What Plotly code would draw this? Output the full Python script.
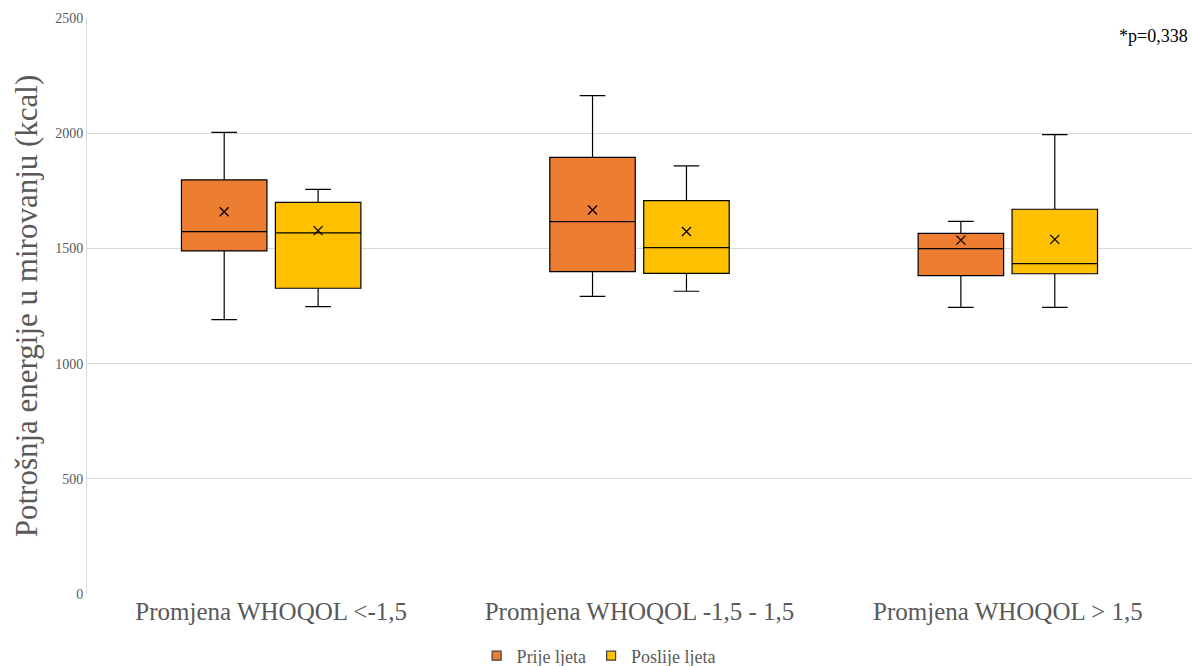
import plotly.graph_objects as go

categories = ["Promjena WHOQOL <-1,5", "Promjena WHOQOL -1,5 - 1,5", "Promjena WHOQOL > 1,5"]

# Prije ljeta
pre_lower = [1191, 1292, 1244]
pre_q1 = [1489, 1399, 1382]
pre_median = [1573, 1616, 1499]
pre_q3 = [1797, 1895, 1565]
pre_upper = [2004, 2163, 1617]
pre_mean = [1659, 1667, 1536]

# Poslije ljeta
post_lower = [1247, 1314, 1244]
post_q1 = [1327, 1392, 1390]
post_median = [1567, 1503, 1434]
post_q3 = [1700, 1707, 1670]
post_upper = [1756, 1858, 1994]
post_mean = [1577, 1573, 1539]

series = [
    ("Prije ljeta", "#ED7D31", pre_lower, pre_q1, pre_median, pre_q3, pre_upper, pre_mean),
    ("Poslije ljeta", "#FFC000", post_lower, post_q1, post_median, post_q3, post_upper, post_mean),
]

fig = go.Figure()
for name, color, lo, q1, med, q3, up, mn in series:
    fig.add_trace(go.Box(
        name=name, x=categories, q1=q1, median=med, q3=q3,
        lowerfence=lo, upperfence=up,
        fillcolor=color, line=dict(color="#000000", width=1.2),
        whiskerwidth=0.3, boxpoints=False, offsetgroup=name,
        hoverinfo="skip", showlegend=False,
    ))
for name, color, lo, q1, med, q3, up, mn in series:
    fig.add_trace(go.Scatter(
        x=categories, y=mn, mode="markers", offsetgroup=name,
        marker=dict(symbol="x-thin", size=9, line=dict(color="#000000", width=1.3)),
        showlegend=False, hoverinfo="skip",
    ))
# legend entries
for name, color, *_ in series:
    fig.add_trace(go.Scatter(
        x=[None], y=[None], mode="markers", name=name,
        marker=dict(symbol="square", size=9, color=color, line=dict(color="#404040", width=1.2)),
    ))

fig.add_annotation(text="*p=0,338", xref="paper", yref="paper", x=0.998, y=0.99,
                   xanchor="right", yanchor="top", showarrow=False,
                   font=dict(family="Liberation Serif", size=18, color="#000000"))

fig.update_layout(
    width=1192, height=666,
    paper_bgcolor="white", plot_bgcolor="white",
    margin=dict(l=87, r=0, t=18, b=72, autoexpand=False),
    boxmode="group", boxgap=0.49, boxgroupgap=0.09,
    scattermode="group", scattergap=0.49,
    font=dict(family="Liberation Serif", color="#595959"),
    legend=dict(orientation="h", x=0.463, xanchor="center", yref="container",
                y=0.015, yanchor="middle",
                font=dict(size=18, color="#595959"), itemwidth=30, tracegroupgap=0),
    xaxis=dict(showline=False, ticks="", tickfont=dict(size=25, color="#595959"),
               showgrid=False),
    yaxis=dict(range=[0, 2500], dtick=500, showgrid=True, gridcolor="#D9D9D9",
               zeroline=False, showline=True, linecolor="#D9D9D9",
               tickfont=dict(size=14, color="#595959"), ticks="",
               title=dict(text="Potrošnja energije u mirovanju (kcal)",
                          font=dict(size=31, color="#595959"), standoff=8)),
)
fig.write_html("out.html", config={"displayModeBar": False},
               post_script="document.body.style.margin='0';")
